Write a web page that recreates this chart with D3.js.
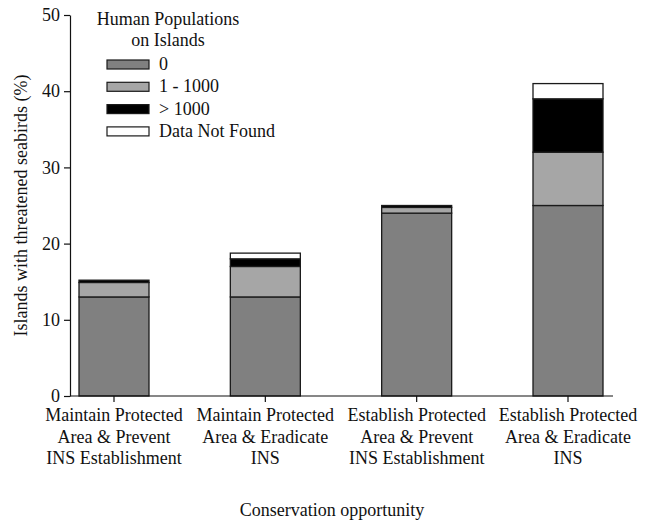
<!DOCTYPE html>
<html>
<head>
<meta charset="utf-8">
<script src="https://cdn.jsdelivr.net/npm/d3@7"></script>
<style>
  html, body { margin: 0; padding: 0; background: #fff; }
  svg { display: block; }
  text { font-family: "Liberation Serif", "DejaVu Serif", serif; fill: #111; }
</style>
</head>
<body>
<svg id="chart" width="647" height="521"></svg>
<script>
// Conservation opportunities (x categories, one line per array entry)
const categories = [
  ["Maintain Protected", "Area & Prevent", "INS Establishment"],
  ["Maintain Protected", "Area & Eradicate", "INS"],
  ["Establish Protected", "Area & Prevent", "INS Establishment"],
  ["Establish Protected", "Area & Eradicate", "INS"]
];
// Human population classes (stack order, bottom to top)
const seriesNames = ["0", "1 - 1000", "> 1000", "Data Not Found"];
const popZero    = [13, 13, 24, 25];
const popLow     = [1.9, 4, 0.75, 7];
const popHigh    = [0.3, 1, 0.25, 7];
const popUnknown = [0, 0.75, 0, 2];
const yTicks = [0, 10, 20, 30, 40, 50];

const colors = ["#808080", "#a6a6a6", "#000000", "#ffffff"];

const svg = d3.select("#chart");
const keys = categories.map((c, i) => "c" + i);
const rows = keys.map((k, i) => ({
  key: k,
  [seriesNames[0]]: popZero[i],
  [seriesNames[1]]: popLow[i],
  [seriesNames[2]]: popHigh[i],
  [seriesNames[3]]: popUnknown[i]
}));
const stacked = d3.stack().keys(seriesNames)(rows);

const axisLeft = 70, axisRight = 613, yTop = 15, yBottom = 396;
const x = d3.scalePoint().domain(keys).range([114, 568]);
const barW = 70;
const y = d3.scaleLinear().domain([0, 50]).range([yBottom, yTop]);

// stacked bars
svg.append("g").selectAll("g")
  .data(stacked)
  .join("g")
  .attr("fill", (d, i) => colors[i])
  .selectAll("rect")
  .data(d => d.filter(s => s[1] - s[0] > 0))
  .join("rect")
  .attr("x", d => x(d.data.key) - barW / 2)
  .attr("width", barW)
  .attr("y", d => y(d[1]))
  .attr("height", d => y(d[0]) - y(d[1]))
  .attr("stroke", "#1a1a1a")
  .attr("stroke-width", 1.3);

// y axis
const yAxis = svg.append("g")
  .attr("transform", `translate(${axisLeft},0)`)
  .call(d3.axisLeft(y).tickValues(yTicks).tickSize(6).tickPadding(4).tickSizeOuter(0));
yAxis.select(".domain").attr("stroke", "#111").attr("stroke-width", 1.2);
yAxis.selectAll(".tick line").attr("stroke", "#111").attr("stroke-width", 1.2);
yAxis.selectAll("text")
  .style("font-family", '"Liberation Serif", serif')
  .style("font-size", "18px")
  .attr("fill", "#111");

// x axis line and ticks
const xg = svg.append("g");
xg.append("line")
  .attr("x1", axisLeft).attr("x2", axisRight)
  .attr("y1", yBottom).attr("y2", yBottom)
  .attr("stroke", "#111").attr("stroke-width", 1.2);
xg.selectAll("line.tick")
  .data(keys)
  .join("line")
  .attr("class", "tick")
  .attr("x1", d => x(d)).attr("x2", d => x(d))
  .attr("y1", yBottom).attr("y2", yBottom + 6)
  .attr("stroke", "#111").attr("stroke-width", 1.2);

// category labels
categories.forEach((lines, i) => {
  const t = svg.append("text")
    .attr("text-anchor", "middle")
    .style("font-size", "18px");
  lines.forEach((ln, j) => {
    t.append("tspan")
      .attr("x", x(keys[i]))
      .attr("y", 421 + j * 21.5)
      .text(ln);
  });
});

// axis titles
svg.append("text")
  .attr("x", 332).attr("y", 516)
  .attr("text-anchor", "middle")
  .style("font-size", "18px")
  .text("Conservation opportunity");

svg.append("text")
  .attr("transform", `translate(27,${(yTop + yBottom) / 2}) rotate(-90)`)
  .attr("text-anchor", "middle")
  .style("font-size", "18px")
  .text("Islands with threatened seabirds (%)");

// legend
const legend = svg.append("g");
legend.append("text")
  .attr("x", 168).attr("y", 25)
  .attr("text-anchor", "middle")
  .style("font-size", "18px")
  .text("Human Populations");
legend.append("text")
  .attr("x", 168).attr("y", 46)
  .attr("text-anchor", "middle")
  .style("font-size", "18px")
  .text("on Islands");
const items = legend.selectAll("g.item")
  .data(seriesNames)
  .join("g")
  .attr("class", "item")
  .attr("transform", (d, i) => `translate(0,${70 + i * 22.3})`);
items.append("rect")
  .attr("x", 107).attr("y", -10)
  .attr("width", 42).attr("height", 9)
  .attr("fill", (d, i) => colors[i])
  .attr("stroke", "#1a1a1a").attr("stroke-width", 1.2);
items.append("text")
  .attr("x", 159).attr("y", 0)
  .style("font-size", "18px")
  .text(d => d);
</script>
</body>
</html>
